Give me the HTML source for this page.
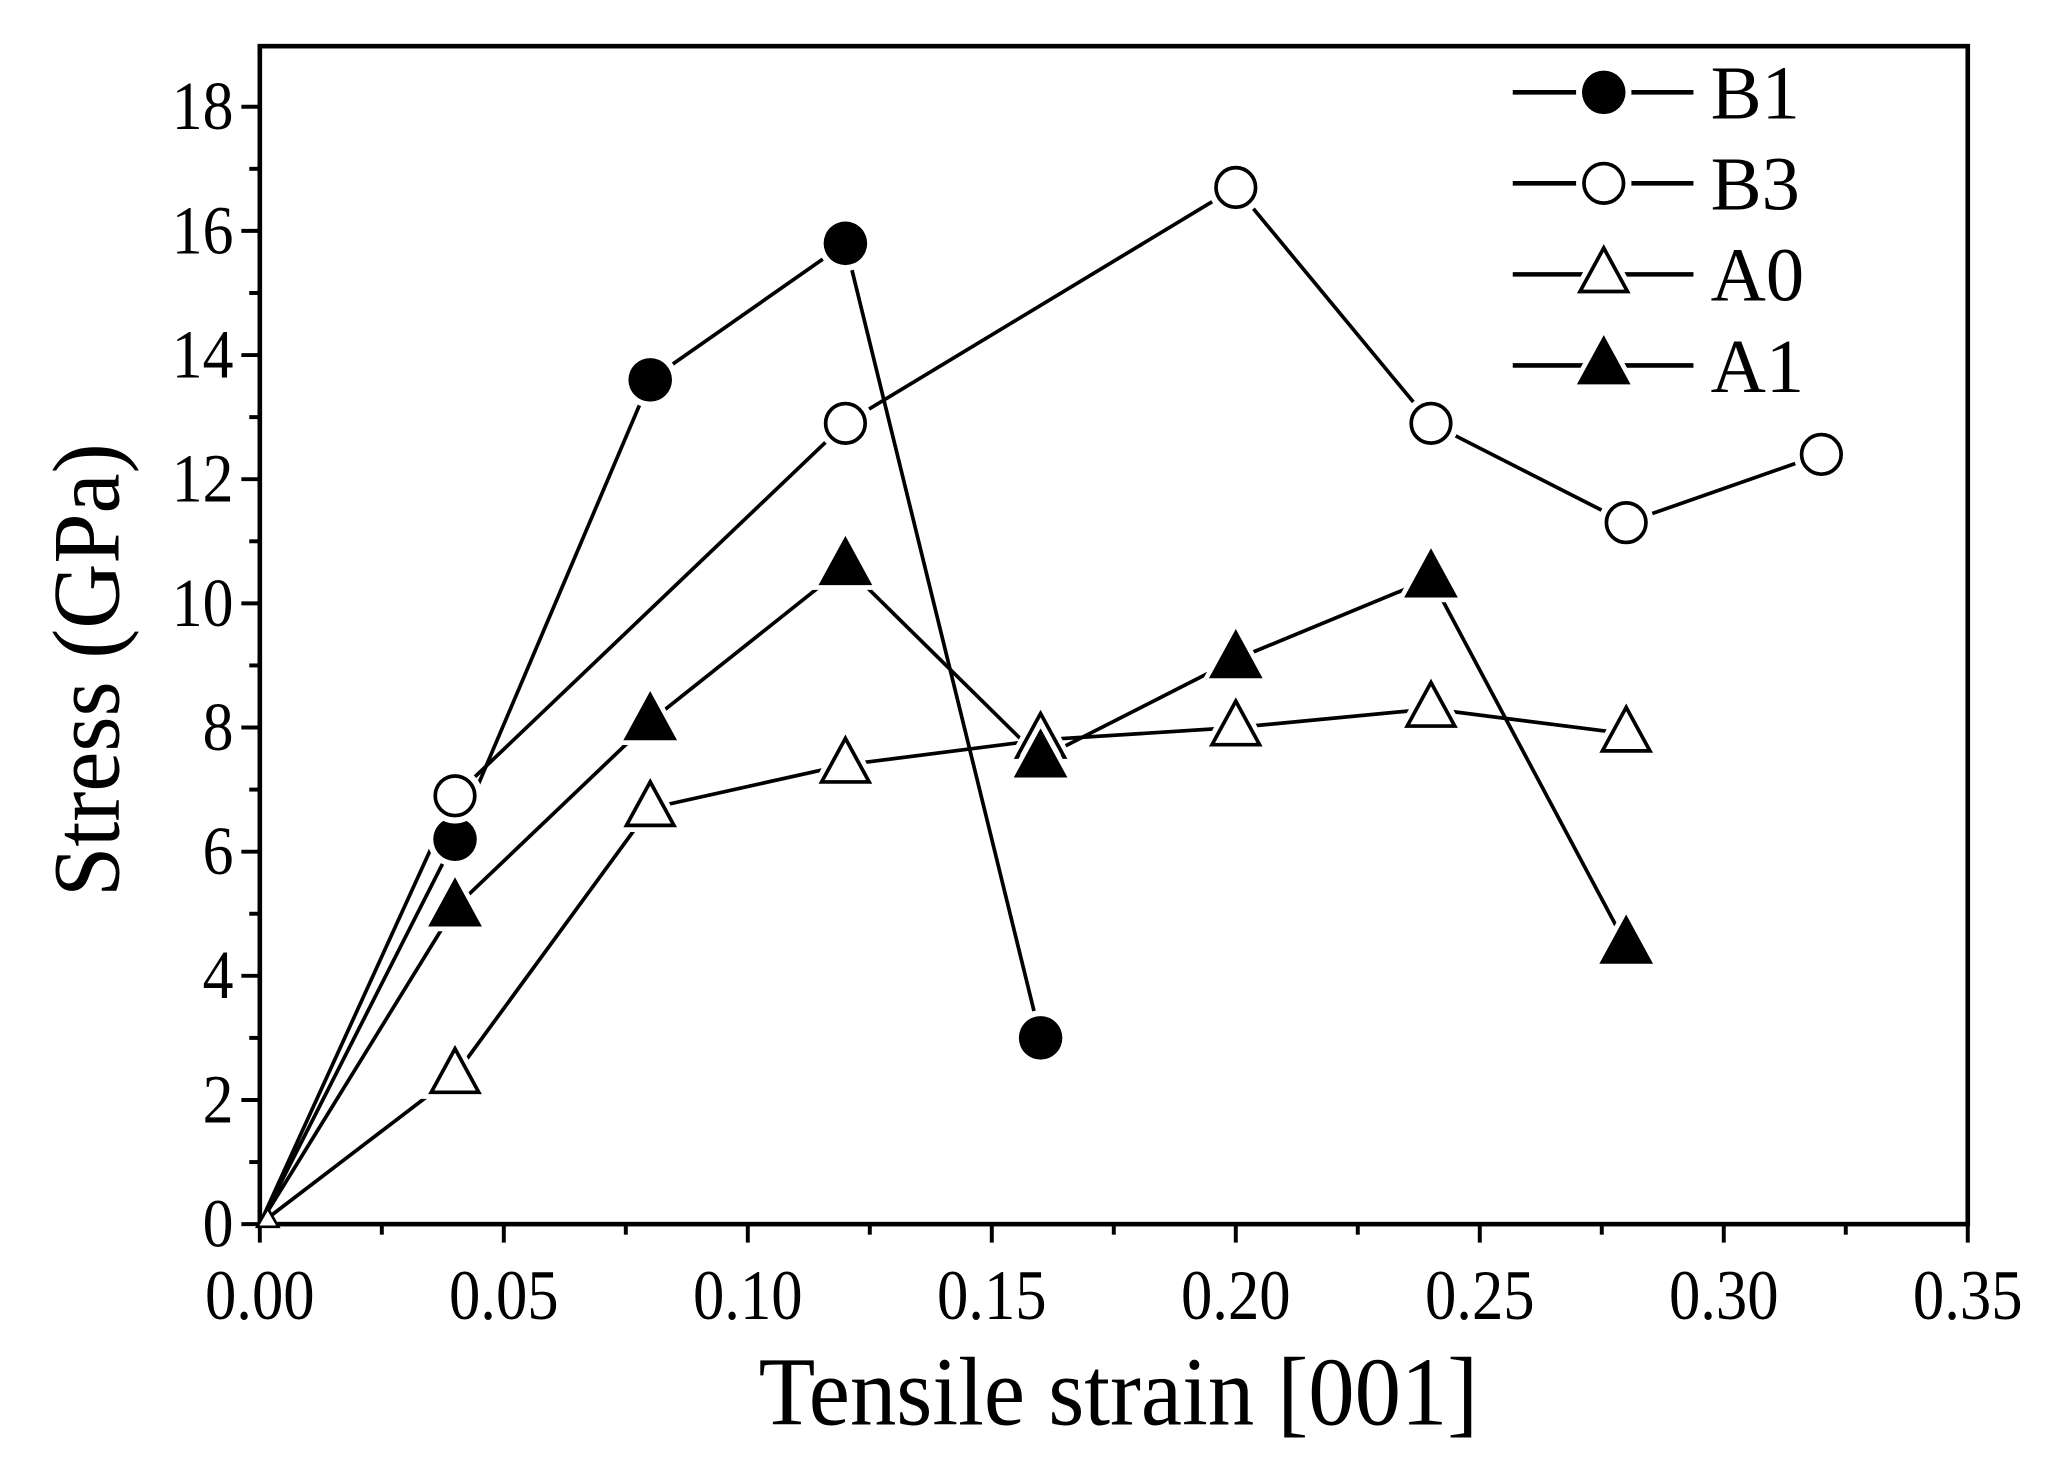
<!DOCTYPE html>
<html><head><meta charset="utf-8"><style>
html,body{margin:0;padding:0;background:#fff;}
svg{display:block;}
text{font-family:"Liberation Serif",serif;fill:#000;}
</style></head><body>
<svg id="s" width="2068" height="1484" viewBox="0 0 1568 1125" preserveAspectRatio="none" xmlns="http://www.w3.org/2000/svg"></svg>
<script>
const L=197,R=1492,T=35,B=928;
const X=v=>L+(v/0.35)*(R-L);
const Yc=v=>B-v*47.06;
let h='';
h+=`<rect x="${L}" y="${T}" width="${R-L}" height="${B-T}" fill="none" stroke="#000" stroke-width="3.5"/>`;
for(let i=0;i<=18;i++){const y=Yc(i);const len=i%2==0?14:8;h+=`<line x1="${L-len}" y1="${y}" x2="${L}" y2="${y}" stroke="#000" stroke-width="3"/>`;
 const tx=L-20;
 if(i%2==0)h+=`<text x="${tx}" y="${y+17}" font-size="52" text-anchor="end" transform="translate(${tx},0) scale(0.9,1) translate(${-tx},0)">${i}</text>`;}
for(let i=0;i<=14;i++){const x=X(i*0.025);const len=i%2==0?14:8;h+=`<line x1="${x}" y1="${B}" x2="${x}" y2="${B+len}" stroke="#000" stroke-width="3"/>`;
 if(i%2==0)h+=`<text x="${x}" y="${B+72}" font-size="54" text-anchor="middle" transform="translate(${x},0) scale(0.88,1) translate(${-x},0)">${(i*0.025).toFixed(2)}</text>`;}
h+=`<text x="848" y="1080" font-size="74" text-anchor="middle" transform="translate(848,0) scale(0.95,1) translate(-848,0)">Tensile strain [001]</text>`;
h+=`<text transform="translate(90,508) rotate(-90) scale(0.95,1)" font-size="72" text-anchor="middle">Stress (GPa)</text>`;
const S={
B1:{m:'c',f:1,d:[[0,0],[0.04,6.2],[0.08,13.6],[0.12,15.8],[0.16,3.0]]},
B3:{m:'c',f:0,d:[[0,0],[0.04,6.9],[0.12,12.9],[0.20,16.7],[0.24,12.9],[0.28,11.3],[0.32,12.4]]},
A0:{m:'t',f:0,d:[[0,0],[0.04,2.4],[0.08,6.7],[0.12,7.4],[0.16,7.8],[0.20,8.0],[0.24,8.3],[0.28,7.9]]},
A1:{m:'t',f:1,d:[[0,0],[0.04,5.1],[0.08,8.1],[0.12,10.6],[0.16,7.5],[0.20,9.1],[0.24,10.4],[0.28,4.5]]}};
function mk(m,f,x,y){
 const fill=f?'#000':'#fff';
 if(m=='c')return `<circle cx="${x}" cy="${y}" r="21" fill="#fff"/>`+(f?`<circle cx="${x}" cy="${y}" r="16.5" fill="#000"/>`:`<circle cx="${x}" cy="${y}" r="15" fill="#fff" stroke="#000" stroke-width="2.8"/>`);
 const p=`${x},${y-20} ${x-18},${y+13} ${x+18},${y+13}`;
 return `<polygon points="${p}" fill="#fff" stroke="#fff" stroke-width="10"/><polygon points="${p}" fill="${fill}" stroke="#000" stroke-width="2.8" stroke-linejoin="miter"/>`;
}
let lines='',marks='';
for(const k in S){const s=S[k];
 lines+=`<polyline points="${s.d.map(p=>X(p[0])+','+Yc(p[1])).join(' ')}" fill="none" stroke="#000" stroke-width="2.8"/>`;
 s.d.forEach((p,i)=>{ if(i==0) return; marks+=mk(s.m,s.f,X(p[0]),Yc(p[1]));});
}
h+=lines+marks;
h+=`<polygon points="203,916 195,930 211,930" fill="#fff" stroke="#000" stroke-width="2"/>`;
const leg=[['B1','c',1],['B3','c',0],['A0','t',0],['A1','t',1]];
leg.forEach((l,i)=>{const y=[70,139,208,277][i];
 h+=`<line x1="1147" y1="${y}" x2="1284" y2="${y}" stroke="#000" stroke-width="3.5"/>`;
 h+=mk(l[1],l[2],1216,y);
 h+=`<text x="1297" y="${y+20}" font-size="58">${l[0]}</text>`;});
document.getElementById('s').innerHTML=h;
</script>
</body></html>
